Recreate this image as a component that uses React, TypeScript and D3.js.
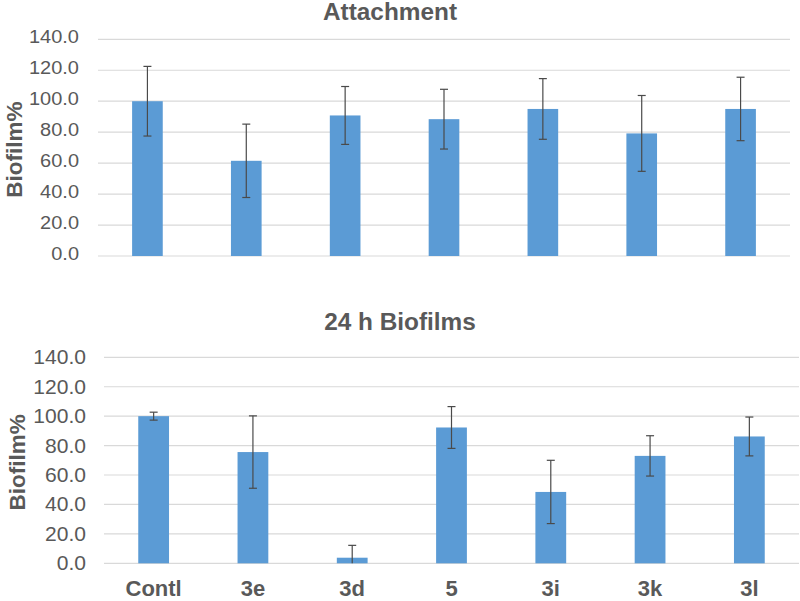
import React from "react"
import * as d3 from "d3"

const categories = ["Contl", "3e", "3d", "5", "3i", "3k", "3l"]
const attachMeans = [100.0, 61.5, 90.8, 88.4, 95.0, 79.2, 95.0]
const attachErr = [22.5, 23.7, 18.7, 19.3, 19.6, 24.5, 20.5]
const biofilmMeans = [100.0, 75.6, 3.8, 92.3, 48.5, 73.0, 86.2]
const biofilmErr = [2.7, 24.6, 8.4, 14.2, 21.5, 13.7, 13.2]
const yTicks = [0, 20, 40, 60, 80, 100, 120, 140]

const W = 800
const H = 601
const barColor = "#5B9BD5"
const gridColor = "#D9D9D9"
const textColor = "#595959"
const font = "'Liberation Sans', Arial, sans-serif"

type PanelProps = {
  title: string
  means: number[]
  errs: number[]
  x0: number
  x1: number
  yTop: number
  yZero: number
  titleX: number
  titleY: number
  labelRight: number
  labelShift: number
  labelSize: number
  axisTitleX: number
  showX: boolean
}

function Panel(p: PanelProps) {
  const x = d3
    .scaleBand<string>()
    .domain(categories)
    .range([p.x0, p.x1])
    .paddingInner(0.69)
    .paddingOuter(0.345)
  const y = d3.scaleLinear().domain([0, 140]).range([p.yZero, p.yTop])
  const fmt = d3.format(".1f")
  const cap = 4

  return (
    <g>
      {/* slight horizontal stretch like the source image */}
      <text
        transform={`translate(${p.titleX},${p.titleY}) scale(1.06,1)`}
        textAnchor="middle"
        fontFamily={font}
        fontWeight="bold"
        fontSize={23}
        fill={textColor}
      >
        {p.title}
      </text>
      {yTicks.map(t => (
        <g key={t}>
          <line x1={p.x0} x2={p.x1} y1={y(t)} y2={y(t)} stroke={gridColor} strokeWidth={1.2} />
          <text
            transform={`translate(${p.labelRight},${y(t) + p.labelShift}) scale(1.08,1)`}
            textAnchor="end"
            fontFamily={font}
            fontSize={p.labelSize}
            fill={textColor}
          >
            {fmt(t)}
          </text>
        </g>
      ))}
      <text
        transform={`translate(${p.axisTitleX},${(p.yTop + p.yZero) / 2 + 2}) rotate(-90)`}
        textAnchor="middle"
        fontFamily={font}
        fontWeight="bold"
        fontSize={22.5}
        fill={textColor}
      >
        Biofilm%
      </text>
      {categories.map((c, i) => {
        const cx = (x(c) as number) + x.bandwidth() / 2
        const hi = y(Math.min(140, p.means[i] + p.errs[i]))
        const lo = y(Math.max(0, p.means[i] - p.errs[i]))
        return (
          <g key={c}>
            <rect x={x(c)} width={x.bandwidth()} y={y(p.means[i])} height={y(0) - y(p.means[i])} fill={barColor} />
            <line x1={cx} x2={cx} y1={hi} y2={lo} stroke="#4A4A4A" strokeWidth={1.2} />
            <line x1={cx - cap} x2={cx + cap} y1={hi} y2={hi} stroke="#4A4A4A" strokeWidth={1.2} />
            {p.means[i] - p.errs[i] > 0 && (
              <line x1={cx - cap} x2={cx + cap} y1={lo} y2={lo} stroke="#4A4A4A" strokeWidth={1.2} />
            )}
            {p.showX && (
              <text x={cx} y={H - 5} textAnchor="middle" fontFamily={font} fontWeight="bold" fontSize={22} fill={textColor}>
                {c}
              </text>
            )}
          </g>
        )
      })}
    </g>
  )
}

export default function App() {
  return (
    <svg width={W} height={H} style={{ position: "absolute", left: 0, top: 0, background: "#fff" }}>
      <rect width={W} height={H} fill="#fff" />
      <Panel
        title="Attachment"
        means={attachMeans}
        errs={attachErr}
        x0={98}
        x1={790}
        yTop={39.3}
        yZero={256}
        titleX={390}
        titleY={19.5}
        labelRight={79}
        labelShift={3.6}
        labelSize={18.5}
        axisTitleX={22}
        showX={false}
      />
      <Panel
        title="24 h Biofilms"
        means={biofilmMeans}
        errs={biofilmErr}
        x0={104}
        x1={799}
        yTop={357.3}
        yZero={563.3}
        titleX={400}
        titleY={330}
        labelRight={86}
        labelShift={7}
        labelSize={19.5}
        axisTitleX={25}
        showX={true}
      />
    </svg>
  )
}
